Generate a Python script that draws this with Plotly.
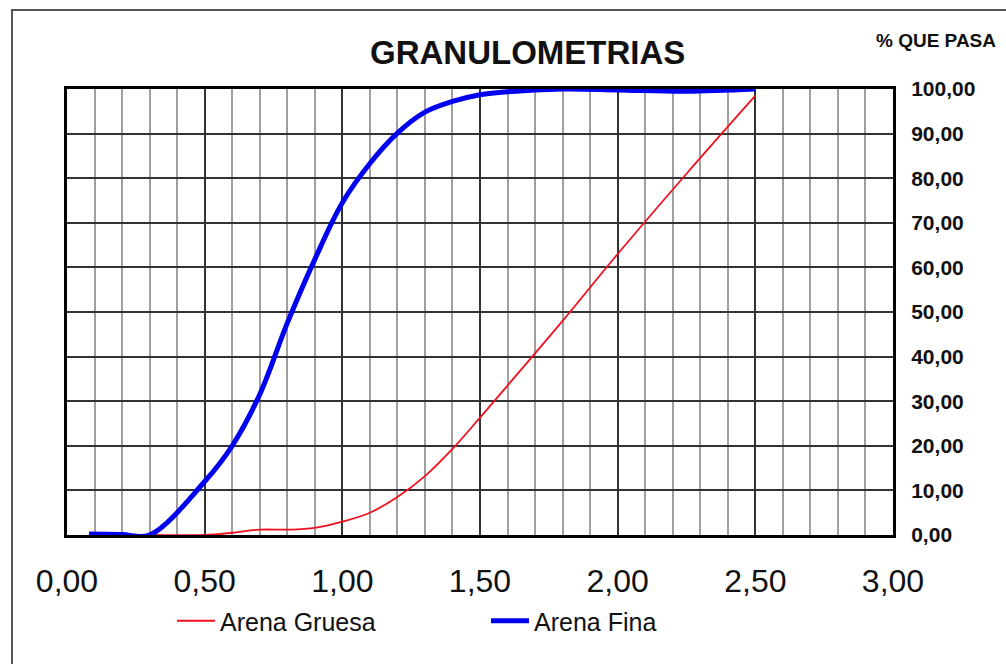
import plotly.graph_objects as go

# Data
fina_x = [0.08, 0.2, 0.3, 0.5, 0.6, 0.7, 0.8, 0.9, 1.0, 1.1, 1.2, 1.3, 1.4, 1.5, 1.6, 1.8, 2.0, 2.25, 2.5]
fina_y = [0.2, 0.1, 0.0, 12.0, 20.0, 31.5, 47.5, 61.8, 74.5, 83.3, 90.1, 94.8, 97.2, 98.7, 99.4, 100.0, 99.8, 99.5, 100.0]

gruesa_x = [0.15, 0.3, 0.5, 0.6, 0.7, 0.8, 0.9, 1.0, 1.1, 1.2, 1.3, 1.4, 1.5, 1.6, 1.8, 2.0, 2.25, 2.5]
gruesa_y = [0.0, 0.0, 0.0, 0.5, 1.2, 1.2, 1.6, 3.0, 5.0, 8.5, 13.2, 19.3, 26.3, 33.5, 48.0, 63.0, 81.0, 98.5]

series_names = ["Arena Gruesa", "Arena Fina"]
title_text = "GRANULOMETRIAS"
y_title = "% QUE PASA"

FONT = "Liberation Sans, Arial, sans-serif"

fig = go.Figure()
fig.add_trace(go.Scatter(x=gruesa_x, y=gruesa_y, mode="lines", name=series_names[0],
                         line=dict(color="#f0101e", width=1.8, shape="spline", smoothing=1.0)))
fig.add_trace(go.Scatter(x=fina_x, y=fina_y, mode="lines", name=series_names[1],
                         line=dict(color="#0000f0", width=5, shape="spline", smoothing=1.0)))

W, H = 1006, 664
L, R, T, B = 67, 893, 89, 535

def px2paper_x(px):
    return (px - L) / (R - L)

def px2paper_y(py):
    return (B - py) / (B - T)

fig.update_layout(
    width=W, height=H,
    margin=dict(l=L, r=W - R, t=T, b=H - B, pad=0),
    paper_bgcolor="white", plot_bgcolor="white",
    separators=",.",
    font=dict(family=FONT, color="black"),
    showlegend=True,
    legend=dict(orientation="h", x=px2paper_x(172), y=px2paper_y(598), xanchor="left", yanchor="top",
                font=dict(size=25, family=FONT, color="#111"), entrywidth=261, entrywidthmode="pixels",
                itemwidth=38, bgcolor="rgba(0,0,0,0)", traceorder="normal"),
    xaxis=dict(range=[0, 3], tick0=0, dtick=0.5, tickformat=".2f",
               showgrid=True, gridcolor="#333333", gridwidth=1.5,
               minor=dict(dtick=0.1, tick0=0, showgrid=True, gridcolor="#a0a0a0", gridwidth=1.5),
               showline=True, linecolor="black", linewidth=3, mirror=True,
               ticks="", ticklabelstandoff=16,
               tickfont=dict(size=32, family=FONT, color="#111"), zeroline=False, fixedrange=True),
    yaxis=dict(range=[0, 100], tick0=0, dtick=10, tickformat=".2f", side="right",
               showgrid=True, gridcolor="#333333", gridwidth=1.5,
               showline=True, linecolor="black", linewidth=3, mirror=True,
               ticks="", ticklabelstandoff=11,
               tickfont=dict(size=21, family=FONT, color="#111", weight="bold"), zeroline=False, fixedrange=True),
    annotations=[
        dict(text=title_text, xref="paper", yref="paper", x=px2paper_x(527), y=px2paper_y(52),
             xanchor="center", yanchor="middle", showarrow=False,
             font=dict(size=33, family=FONT, color="#111", weight="bold")),
        dict(text=y_title, xref="paper", yref="paper", x=px2paper_x(998), y=px2paper_y(40),
             xanchor="right", yanchor="middle", showarrow=False,
             font=dict(size=19, family=FONT, color="#111", weight="bold")),
    ],
    shapes=[
        dict(type="rect", xref="paper", yref="paper",
             x0=px2paper_x(12), x1=px2paper_x(1012), y0=px2paper_y(672), y1=px2paper_y(10),
             line=dict(color="#555555", width=2), fillcolor="rgba(0,0,0,0)", layer="below"),
    ],
)

fig.write_html("out.html", config={"displayModeBar": False},
               post_script="document.body.style.margin='0';")
